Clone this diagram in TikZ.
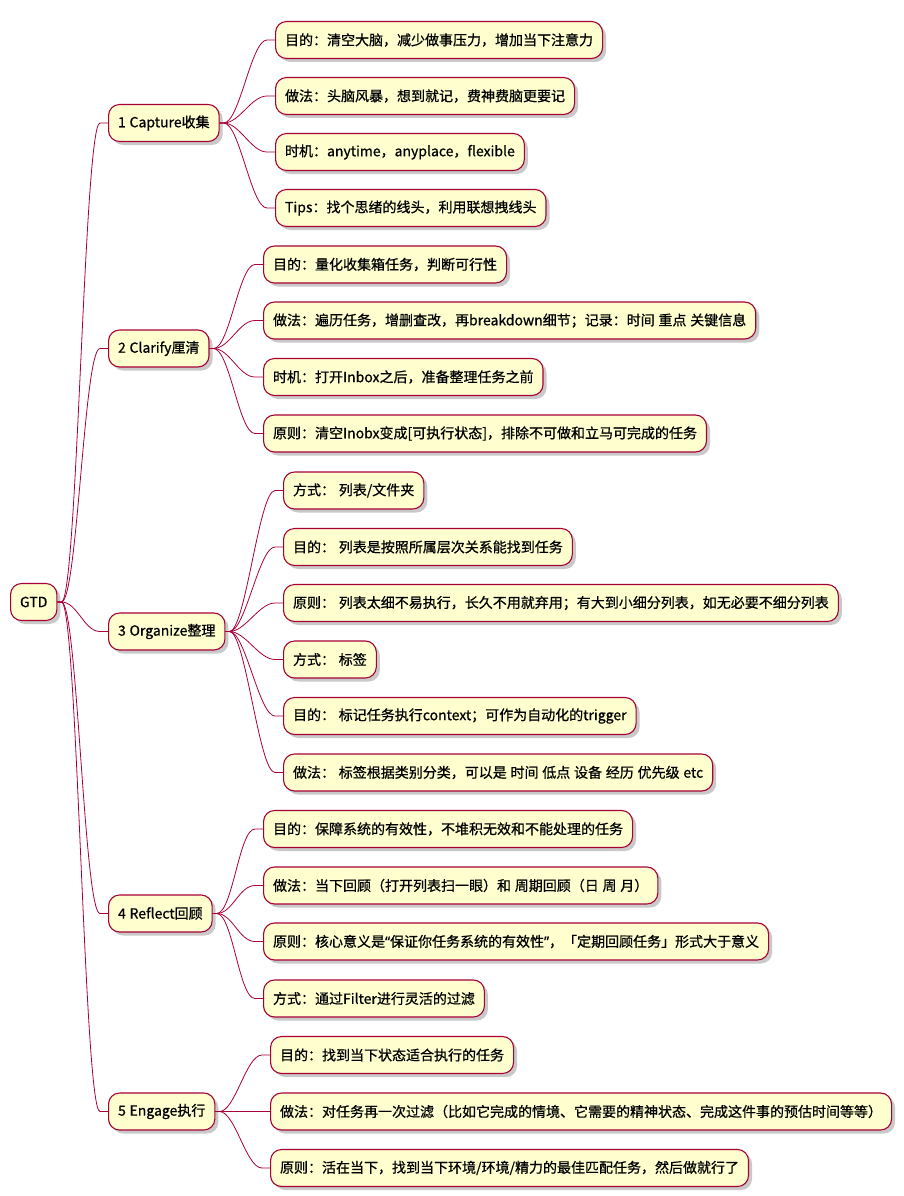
\documentclass[tikz,border=0pt]{standalone}
\usepackage{fontspec}
\usepackage{tikz}
\usetikzlibrary{positioning, shadows}
\newfontfamily\cjk{Noto Sans CJK SC}[FakeBold=0.7, WordSpace=1.2]
\newfontfamily\quotefont{Noto Sans}[FakeBold=0.7]
\definecolor{umlfill}{HTML}{FEFECE}
\definecolor{umlline}{HTML}{A80036}

\tikzset{
  topic/.style={draw=umlline, fill=umlfill, line width=1.1pt, rounded corners=11pt,
    font=\cjk\fontsize{14}{16}\selectfont, inner xsep=9.5pt, minimum height=37pt, anchor=west,
    drop shadow={shadow xshift=3.5pt, shadow yshift=-3.5pt, opacity=0.3, fill=black!70}},
  branch/.style={draw=umlline, line width=0.8pt,
    to path={-- ++(4pt,0) .. controls +(16pt,0) and +(-16pt,0) .. ([xshift=-8pt]\tikztotarget) -- (\tikztotarget)}},
}

\begin{document}
\begin{tikzpicture}[x=1pt, y=-1pt]
		\useasboundingbox (0,0) rectangle (903,1196);

		\node (gtd) [topic] at (10,602) {GTD};

		\node (capture) [topic] at (108,123) {1 Capture收集};
		\node (clarify) [topic] at (108,348.5) {2 Clarify厘清};
		\node (organize) [topic] at (108,631.5) {3 Organize整理};
		\node (reflect) [topic] at (108,913.5) {4 Reflect回顾};
		\node (engage) [topic] at (108,1111.5) {5 Engage执行};

		\node (cap1) [topic] at (275,40) {目的：清空大脑，减少做事压力，增加当下注意力};
		\node (cap2) [topic] at (275,96) {做法：头脑风暴，想到就记，费神费脑更要记};
		\node (cap3) [topic] at (275,152) {时机：anytime，anyplace，flexible};
		\node (cap4) [topic] at (275,208) {Tips：找个思绪的线头，利用联想拽线头};

		\node (cla1) [topic] at (263,264.5) {目的：量化收集箱任务，判断可行性};
		\node (cla2) [topic] at (263,320.5) {做法：遍历任务，增删查改，再breakdown细节；记录：时间 重点 关键信息};
		\node (cla3) [topic] at (263,377) {时机：打开Inbox之后，准备整理任务之前};
		\node (cla4) [topic] at (263,433.5) {原则：清空Inobx变成[可执行状态]，排除不可做和立马可完成的任务};

		\node (org1) [topic] at (283,490.5) {方式： 列表/文件夹};
		\node (org2) [topic] at (283,547) {目的： 列表是按照所属层次关系能找到任务};
		\node (org3) [topic] at (283,603) {原则： 列表太细不易执行，长久不用就弃用；有大到小细分列表，如无必要不细分列表};
		\node (org4) [topic] at (283,659.5) {方式： 标签};
		\node (org5) [topic] at (283,716) {目的： 标记任务执行context；可作为自动化的trigger};
		\node (org6) [topic] at (283,772.5) {做法： 标签根据类别分类，可以是 时间 低点 设备 经历 优先级 etc};

		\node (ref1) [topic] at (263,829) {目的：保障系统的有效性，不堆积无效和不能处理的任务};
		\node (ref2) [topic] at (263,885.5) {做法：当下回顾（打开列表扫一眼）和 周期回顾（日 周 月）};
		\node (ref3) [topic] at (263,941.5) {原则：核心意义是{\quotefont “}保证你任务系统的有效性{\quotefont ”}，「定期回顾任务」形式大于意义};
		\node (ref4) [topic] at (263,998.5) {方式：通过Filter进行灵活的过滤};

		\node (eng1) [topic] at (270,1055) {目的：找到当下状态适合执行的任务};
		\node (eng2) [topic] at (270,1111.5) {做法：对任务再一次过滤（比如它完成的情境、它需要的精神状态、完成这件事的预估时间等等）};
		\node (eng3) [topic] at (270,1168) {原则：活在当下，找到当下环境/环境/精力的最佳匹配任务，然后做就行了};

		\path
		(gtd.east) edge [branch] (capture.west)
		(gtd.east) edge [branch] (clarify.west)
		(gtd.east) edge [branch] (organize.west)
		(gtd.east) edge [branch] (reflect.west)
		(gtd.east) edge [branch] (engage.west)
		(capture.east) edge [branch] (cap1.west)
		(capture.east) edge [branch] (cap2.west)
		(capture.east) edge [branch] (cap3.west)
		(capture.east) edge [branch] (cap4.west)
		(clarify.east) edge [branch] (cla1.west)
		(clarify.east) edge [branch] (cla2.west)
		(clarify.east) edge [branch] (cla3.west)
		(clarify.east) edge [branch] (cla4.west)
		(organize.east) edge [branch] (org1.west)
		(organize.east) edge [branch] (org2.west)
		(organize.east) edge [branch] (org3.west)
		(organize.east) edge [branch] (org4.west)
		(organize.east) edge [branch] (org5.west)
		(organize.east) edge [branch] (org6.west)
		(reflect.east) edge [branch] (ref1.west)
		(reflect.east) edge [branch] (ref2.west)
		(reflect.east) edge [branch] (ref3.west)
		(reflect.east) edge [branch] (ref4.west)
		(engage.east) edge [branch] (eng1.west)
		(engage.east) edge [branch] (eng2.west)
		(engage.east) edge [branch] (eng3.west)
		;
	\end{tikzpicture}
\end{document}
